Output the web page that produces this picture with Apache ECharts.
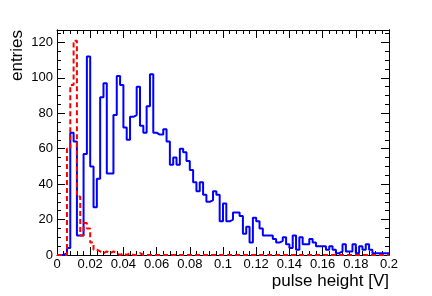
<!DOCTYPE html>
<html>
<head>
<meta charset="utf-8">
<script src="https://cdn.jsdelivr.net/npm/echarts@6/dist/echarts.min.js"></script>
<style>
html,body{margin:0;padding:0;background:#fff;}
#chart{width:432px;height:296px;}
</style>
</head>
<body>
<div id="chart"></div>
<script>
// Histogram binning (100 bins of 0.002 V from 0 to 0.2 V)
const xMin = 0;
const xMax = 0.2;
const binWidth = 0.002;

// Blue histogram: entries per bin
const blueCounts = [
  0, 0, 1, 4, 69, 64, 11, 11, 57, 112,
  50, 27, 43, 89, 97, 46, 46, 79, 101, 96,
  72, 65, 78, 79, 95, 73, 69, 84, 102, 69,
  68, 68, 71, 64, 51, 55, 51, 60, 58, 53,
  48, 41, 36, 41, 34, 30, 31, 36, 34, 19,
  29, 19, 20, 24, 24, 22, 12, 16, 7, 21,
  19, 15, 11, 11, 11, 9, 7, 8, 10, 6,
  4, 11, 3, 10, 6, 6, 9, 7, 5, 5,
  5, 3, 5, 3, 1, 2, 6, 2, 2, 6,
  1, 5, 3, 6, 3, 1, 1, 1, 1, 1
];

// Red dashed histogram: entries per bin
const redCounts = [
  0, 0, 0, 60, 96, 121, 33, 11, 18, 15,
  7, 3, 2, 1, 2, 1, 2, 1, 0, 1,
  0, 1, 0, 0, 1, 0, 0, 0, 0, 0,
  0, 0, 0, 0, 0, 0, 0, 0, 0, 0,
  0, 0, 0, 0, 0, 0, 0, 0, 0, 0,
  0, 0, 0, 0, 0, 0, 0, 0, 0, 0,
  0, 0, 0, 0, 0, 0, 0, 0, 0, 0,
  0, 0, 0, 0, 0, 0, 0, 0, 0, 0,
  0, 0, 0, 0, 0, 0, 0, 0, 0, 0,
  0, 0, 0, 0, 0, 0, 0, 0, 0, 0
];

// Axis ticks / labels
const yMax = 127;
const yMajorTicks = [0, 20, 40, 60, 80, 100, 120];
const xInterval = 0.02;
const xTitle = 'pulse height [V]';
const yTitle = 'entries';

function stepData(counts) {
  const pts = counts.map((v, i) => [xMin + i * binWidth, v]);
  pts.push([xMax, counts[counts.length - 1]]);
  return pts;
}

const fontFamily = '"Liberation Sans", Arial, Helvetica, sans-serif';
const black = '#000';

function xAxisCfg(pos, showLabel) {
  return {
    type: 'value', position: pos, min: xMin, max: xMax, interval: xInterval,
    axisLine: { show: true, onZero: false, lineStyle: { color: black, width: 1 } },
    axisTick: { show: true, inside: true, length: 8, lineStyle: { color: black } },
    minorTick: { show: true, splitNumber: 5, length: 4, lineStyle: { color: black } },
    splitLine: { show: false }, minorSplitLine: { show: false },
    axisLabel: {
      show: showLabel, margin: 3, color: black, fontSize: 13, fontFamily: fontFamily,
      formatter: v => String(Math.round(v * 1000) / 1000)
    }
  };
}
function yMinorCfg(pos) {
  return {
    type: 'value', position: pos, min: 0, max: yMax, interval: 5,
    axisLine: { show: true, onZero: false, lineStyle: { color: black, width: 1 } },
    axisTick: { show: true, inside: true, length: 4, lineStyle: { color: black } },
    splitLine: { show: false },
    axisLabel: { show: false }
  };
}
function yMajorCfg(pos, showLabel) {
  return {
    type: 'value', position: pos, min: 0, max: yMax, interval: 20,
    axisLine: { show: true, onZero: false, lineStyle: { color: black, width: 1 } },
    axisTick: { show: true, inside: true, length: 8, customValues: yMajorTicks, lineStyle: { color: black } },
    splitLine: { show: false },
    axisLabel: { show: showLabel, customValues: yMajorTicks, margin: 4, color: black, fontSize: 13, fontFamily: fontFamily }
  };
}

const chart = echarts.init(document.getElementById('chart'), null, { renderer: 'canvas' });
chart.setOption({
  animation: false,
  backgroundColor: '#fff',
  grid: { left: 57, top: 30, width: 332, height: 225, containLabel: false },
  xAxis: [xAxisCfg('bottom', true), xAxisCfg('top', false)],
  yAxis: [yMinorCfg('left'), yMajorCfg('left', true), yMinorCfg('right'), yMajorCfg('right', false)],
  series: [
    {
      type: 'line', xAxisIndex: 0, yAxisIndex: 1, step: 'end', symbol: 'none',
      data: stepData(blueCounts),
      lineStyle: { color: '#0000ff', width: 2 }, z: 3
    },
    {
      type: 'line', xAxisIndex: 0, yAxisIndex: 1, step: 'end', symbol: 'none',
      data: stepData(redCounts),
      lineStyle: { color: '#ff0000', width: 2, type: [5, 3] }, z: 4
    }
  ],
  graphic: [
    {
      type: 'text', x: 389, y: 281,
      style: { text: xTitle, fill: black, font: '17px ' + fontFamily, align: 'right', verticalAlign: 'middle' }
    },
    {
      type: 'text', x: 17, y: 30, rotation: Math.PI / 2,
      style: { text: yTitle, fill: black, font: '17px ' + fontFamily, align: 'right', verticalAlign: 'middle' }
    }
  ]
});
</script>
</body>
</html>
